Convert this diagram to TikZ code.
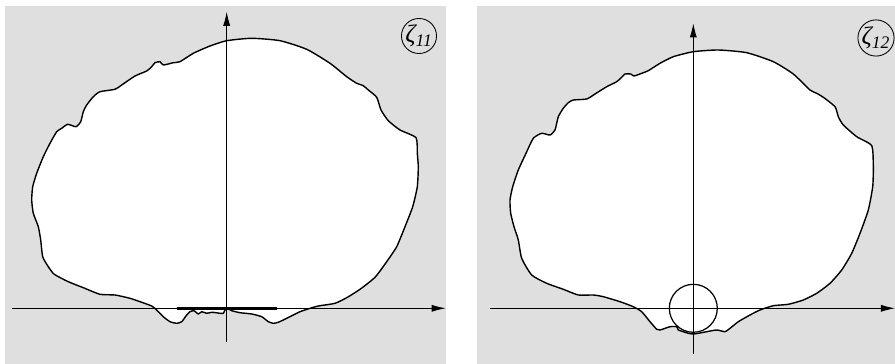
\documentclass[tikz,border=0pt]{standalone}
\usepackage{fontspec}
\setmainfont{Liberation Serif}
\usetikzlibrary{arrows.meta}

\tikzset{
  panel/.style={fill=gray!25, draw=none},
  outline/.style={fill=white, draw=black, line width=0.8pt, line join=round},
  axis/.style={-{Latex[length=8pt,width=4pt]}, line width=0.5pt},
  tag/.style={draw, circle, line width=0.5pt, minimum size=0.64cm, inner sep=0pt, font=\Large\itshape}
}

\begin{document}
\begin{tikzpicture}[x=0.02cm, y=-0.02cm]
    \useasboundingbox (0,0) rectangle (895,364);

    % Panels
    \fill[panel] (5,6) rectangle (446,364);
    \fill[panel] (477,6) rectangle (895,364);

    % ---- Left panel: section outline ----
    \draw[outline] plot[smooth cycle, tension=0.35] coordinates {
      (180,61.7) (193.3,53.3) (210,46) (226.7,40.7) (251.7,38.3) (280,40.7)
      (306.7,49.3) (330,63.3) (346.7,76.7) (356.7,83.3) (363.3,85.7) (368.3,90)
      (376.7,97.3) (381,110) (388.3,120.7) (400,130) (416,137.7) (417.3,153.3)
      (418.3,166.7) (417.3,186.7) (412.7,206.7) (405,226.7) (396.7,246.7)
      (386.7,261.7) (375,277.3) (360,289.3) (346.7,297.7) (335,303.3) (320,305.7)
      (313.3,307.3) (300,311.7) (286.7,318.3) (278.3,322.3) (273.3,323.3)
      (268.3,321.7) (261.7,316.7) (251.7,314) (240,312.7) (231.7,310.7)
      (227.3,308.3) (225,310) (223.3,313.3) (220,313.3) (216,312.7) (211.7,312.3)
      (206.7,313.3) (201.7,311.7) (198.3,314) (194,310.7) (190,311.7) (186.7,315)
      (181.7,321.7) (176.7,323.3) (170,321.7) (163.3,316.7) (156.7,310)
      (151.7,306) (140,301.7) (130,298.3) (115,295) (100,294.3) (83.3,287.7)
      (68.3,281.7) (54.3,274.3) (48.3,266.7) (42.7,256.7) (40.7,240) (38.3,226.7)
      (33.3,213.3) (31.7,200) (32.7,186.7) (36.7,173.3) (43.3,156.7) (50,143.3)
      (56.7,131.7) (61.7,128.3) (67.7,124.3) (76,126.7) (80.7,121.7) (83.3,111.7)
      (86.7,105) (93.3,96.7) (100,91.7) (115,89.3) (121.7,85) (135,76)
      (146.7,71) (151.7,66.7) (155,62.7) (160,61.7) (163.3,65) (173.3,62.7)
    };

    % Axes
    \coordinate (xL0) at (11.7,308.3);
    \coordinate (xL1) at (445.7,308.3);
    \coordinate (yL0) at (226.7,342);
    \coordinate (yL1) at (226.7,11.7);
    \draw[axis] (xL0) -- (xL1);
    \draw[axis] (yL0) -- (yL1);

    % Flat contact segment
    \coordinate (sL0) at (176.7,308.3);
    \coordinate (sL1) at (276.7,308.3);
    \draw[line width=1.7pt] (sL0) -- (sL1);

    \node[tag] (zetaL) at (419,36) {ζ\textsubscript{11}};

    % ---- Right panel: section outline ----
    \draw[outline] plot[smooth cycle, tension=0.35] coordinates {
      (648.3,70.7) (660,63.3) (673.3,56.7) (693.3,51.7) (718.3,50) (746.7,52.7)
      (773.3,61.7) (793.3,74) (810,90) (816.7,93.3) (823.3,97.3) (835,106.7)
      (838.3,116.7) (843.3,125) (856.7,136.7) (871.7,145.7) (873.3,166.7)
      (872.7,186.7) (868.3,210) (860,233.3) (851.7,253.3) (841.7,270) (830,283.3)
      (816.7,293.3) (803.3,300) (788.3,304.3) (773.3,305.7) (760,310) (750,315)
      (738.3,321.7) (730,328.3) (725,331.7) (716.7,330) (706.7,331.7)
      (698.3,333.3) (693.3,334) (688.3,333.3) (683.3,331.7) (678.3,330)
      (676.7,326.7) (670,326.7) (660,330) (656.7,329.3) (650,321.7) (641.7,311.7)
      (633.3,306.7) (620,301.7) (603.3,296.7) (593.3,295) (578.3,295)
      (563.3,289.3) (546.7,283.3) (531.7,275) (521.7,258.3) (518.3,240)
      (514,226.7) (510.7,213.3) (510,200) (512.7,186.7) (518.3,170) (526,153.3)
      (533.3,138.3) (541.7,133.3) (550,135) (555,130) (558.3,116.7) (563.3,108.3)
      (568.3,102.7) (573.3,100) (586.7,99) (595,94) (606.7,86.7) (616.7,81.7)
      (621.7,77.3) (625,74) (630.7,74) (634,76) (641.7,73.3)
    };

    % Axes
    \coordinate (xR0) at (490,308.3);
    \coordinate (xR1) at (895,308.3);
    \coordinate (yR0) at (693.3,354.3);
    \coordinate (yR1) at (693.3,23.3);
    \draw[axis] (xR0) -- (xR1);
    \draw[axis] (yR0) -- (yR1);

    % Contact circle
    \coordinate (oR) at (693.3,308.3);
    \draw[line width=0.7pt] (oR) circle[radius=0.48cm];

    \node[tag] (zetaR) at (876,38) {ζ\textsubscript{12}};

\end{tikzpicture}
\end{document}
